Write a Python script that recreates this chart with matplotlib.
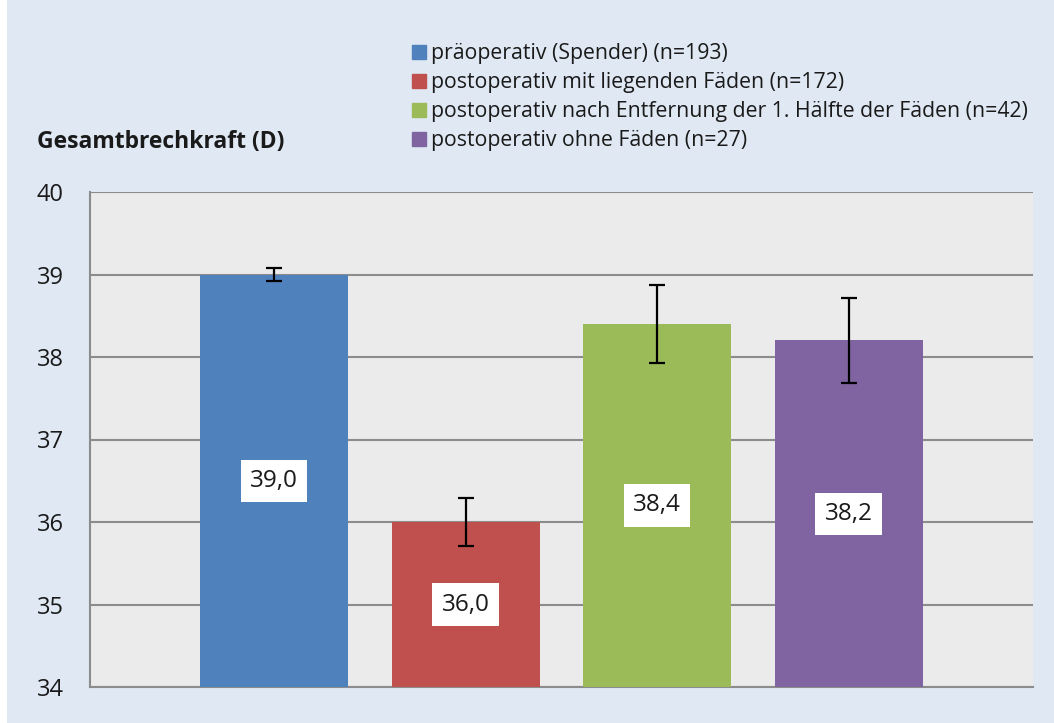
import numpy as np
import matplotlib
matplotlib.use("Agg")
import matplotlib.pyplot as plt
from matplotlib.patches import Rectangle

plt.rcParams['font.family'] = ['Open Sans', 'DejaVu Sans']

# values
groups = ['präoperativ (Spender) (n=193)',
          'postoperativ mit liegenden Fäden (n=172)',
          'postoperativ nach Entfernung der 1. Hälfte der Fäden (n=42)',
          'postoperativ ohne Fäden (n=27)']
means = [39.0, 36.0, 38.4, 38.2]
errors = [0.08, 0.29, 0.47, 0.52]
value_labels = ['39,0', '36,0', '38,4', '38,2']
colors = ['#4f81bd', '#c0504d', '#9bbb59', '#8064a2']
yticks = [34, 35, 36, 37, 38, 39, 40]

fig = plt.figure(figsize=(10.54, 7.23), dpi=100)
fig.patch.set_facecolor('white')
# light blue panel, leaving a thin white strip on the left
fig.patches.append(Rectangle((7 / 1054, 0), 1, 1, transform=fig.transFigure,
                             facecolor='#dfe8f3', edgecolor='none', zorder=-5))

ax = fig.add_axes([90 / 1054, 1 - 687 / 723, (1033 - 90) / 1054, (687 - 192) / 723])
ax.set_facecolor('#ebebeb')

x = np.arange(len(means))
ax.bar(x, [m - 34 for m in means], bottom=34, width=0.773, color=colors, zorder=3)
ax.errorbar(x, means, yerr=errors, fmt='none', ecolor='black', elinewidth=1.6,
            capsize=6, capthick=1.6, zorder=4)

for xi, m, lab in zip(x, means, value_labels):
    ax.text(xi, (34 + m) / 2, lab, ha='center', va='center', fontsize=17.5,
            color='#1a1a1a', zorder=5,
            bbox=dict(boxstyle='square,pad=0.38', facecolor='white', edgecolor='none'))

ax.set_ylim(34, 40)
ax.set_xlim(-0.961, 3.963)
ax.set_yticks(yticks)
ax.set_yticklabels([str(t) for t in yticks], fontsize=17, color='#1a1a1a')
ax.set_xticks([])
ax.tick_params(axis='y', length=0, pad=19)
ax.grid(axis='y', color='#8c8c8c', linewidth=1.5, zorder=1)
for side in ['top', 'right']:
    ax.spines[side].set_visible(False)
for side in ['left', 'bottom']:
    ax.spines[side].set_color('#8c8c8c')
    ax.spines[side].set_linewidth(1.5)

fig.text(37 / 1054, 1 - 142 / 723, 'Gesamtbrechkraft (D)', fontsize=16.5,
         fontweight='bold', color='#1a1a1a', va='center', ha='left')

handles = [Rectangle((0, 0), 1, 1, color=c) for c in colors]
fig.legend(handles, groups, loc='upper left', bbox_to_anchor=(393 / 1054, 1 - 24 / 723),
           frameon=False, fontsize=15.3, handlelength=0.65, handleheight=0.65,
           handletextpad=0.25, labelspacing=0.38, labelcolor='#1a1a1a')

fig.savefig('out.png', dpi=100, facecolor=fig.get_facecolor())
